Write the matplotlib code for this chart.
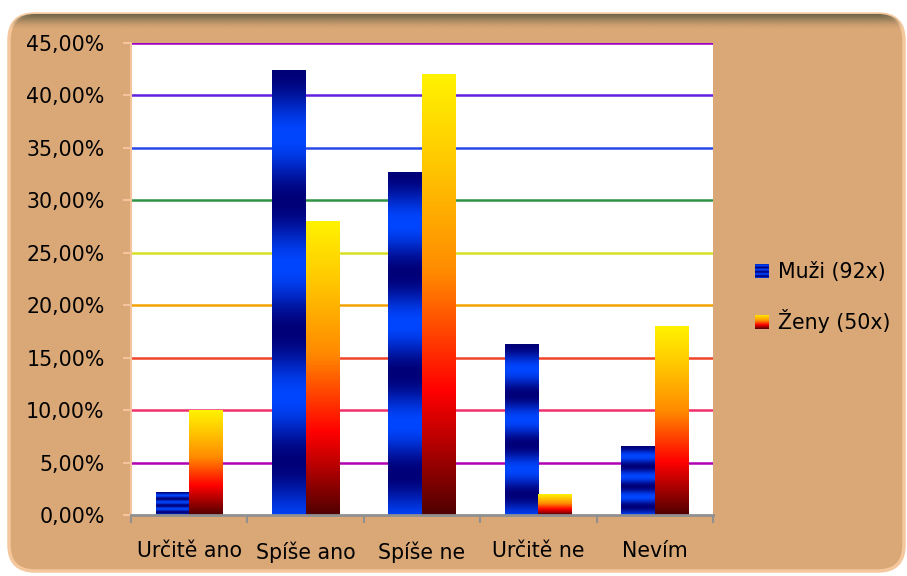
import numpy as np
import matplotlib
matplotlib.use('Agg')
import matplotlib.pyplot as plt
from matplotlib.colors import LinearSegmentedColormap, to_rgb
from matplotlib.patches import FancyBboxPatch, Patch
from matplotlib.ticker import FuncFormatter

categories = ['Určitě ano', 'Spíše ano', 'Spíše ne', 'Určitě ne', 'Nevím']
muzi = [2.17, 42.39, 32.61, 16.30, 6.52]   # % of 92
zeny = [10.0, 28.0, 42.0, 2.0, 18.0]        # % of 50
series_labels = ['Muži (92x)', 'Ženy (50x)']
y_ticks = [0, 5, 10, 15, 20, 25, 30, 35, 40, 45]

# each gridline has its own colour in the original
grid_colors = ['#909090', '#B000B0', '#F03068', '#F04428', '#F2A200',
               '#D8E024', '#2E9444', '#2848E8', '#6020E0', '#A000C0']

tan = '#DAA877'

zeny_cmap = LinearSegmentedColormap.from_list(
    'zeny', [(0, '#FFF200'), (0.2, '#FFC800'), (0.45, '#FF8A00'),
             (0.72, '#FF0000'), (1.0, '#520000')])


def blue_stripes(n=200, cycles=3.4):
    # navy -> bright blue bands, same number of bands on every bar
    t = np.linspace(0, 1, n)
    k = 0.5 - 0.5 * np.cos(2 * np.pi * cycles * t)
    navy = np.array(to_rgb('#000078'))
    bright = np.array(to_rgb('#0046FF'))
    rgb = navy[None, :] * (1 - k[:, None]) + bright[None, :] * k[:, None]
    return rgb[:, None, :]


def red_gradient(n=200):
    t = np.linspace(0, 1, n)
    return zeny_cmap(t)[:, None, :3]


fig = plt.figure(figsize=(9.07, 5.76), dpi=100)
fig.patch.set_facecolor('white')

# background panel with rounded corners and a dark top edge
bg = fig.add_axes([0, 0, 1, 1])
bg.set_xlim(0, 907)
bg.set_ylim(576, 0)
bg.axis('off')
panel = FancyBboxPatch((9, 14), 895, 557, boxstyle='round,pad=0,rounding_size=26',
                       facecolor=tan, edgecolor='#F4C89C', linewidth=2.5, zorder=1)
bg.add_patch(panel)
shade = np.zeros((40, 1, 4))
shade[:, 0, :3] = to_rgb('#5E5A40')
shade[:, 0, 3] = np.linspace(0.95, 0, 40) ** 1.6
im = bg.imshow(shade, extent=[9, 904, 30, 14], aspect='auto', zorder=2)
im.set_clip_path(panel)

ax = fig.add_axes([131 / 907, 1 - 515 / 576, (713 - 131) / 907, (515 - 43) / 576])
ax.set_facecolor('white')

x = np.arange(len(categories))
w = 0.288
bars_m = ax.bar(x - w / 2, muzi, w, facecolor='none', edgecolor='none', zorder=3)
bars_z = ax.bar(x + w / 2, zeny, w, facecolor='none', edgecolor='none', zorder=3)

for bars, fill in [(bars_m, blue_stripes), (bars_z, red_gradient)]:
    for b in bars:
        x0, y0 = b.get_x(), b.get_y()
        ax.imshow(fill(), extent=[x0, x0 + b.get_width(), y0, y0 + b.get_height()],
                  origin='upper', aspect='auto', zorder=3, interpolation='bilinear')

for val, col in zip(y_ticks[1:], grid_colors[1:]):
    ax.axhline(val, color=col, linewidth=1.8, zorder=1)

ax.set_xlim(-0.5, len(categories) - 0.5)
ax.set_ylim(0, 45)
ax.set_yticks(y_ticks)
ax.yaxis.set_major_formatter(FuncFormatter(lambda v, p: ('%.2f' % v).replace('.', ',') + '%'))
ax.set_xticks(x)
ax.set_xticklabels(categories)
ax.set_xticks(np.arange(len(categories) + 1) - 0.5, minor=True)

ax.tick_params(axis='x', which='major', length=0, pad=19, labelsize=14.8)
ax.tick_params(axis='x', which='minor', length=6, width=1.5, color='#909090')
ax.tick_params(axis='y', length=6, width=1.5, color='#F4C49C', pad=13, labelsize=14.8)

for s in ['top', 'right']:
    ax.spines[s].set_visible(False)
ax.spines['left'].set_color('#F4C49C')
ax.spines['left'].set_linewidth(1.5)
ax.spines['bottom'].set_color('#909090')
ax.spines['bottom'].set_linewidth(2)
ax.spines['bottom'].set_zorder(4)

handles = [Patch(facecolor='#0030D0'), Patch(facecolor='#FF8000')]
leg = fig.legend(handles, series_labels, loc='center left',
                 bbox_to_anchor=(755 / 907, 1 - 297.5 / 576), frameon=False,
                 fontsize=14.8, handlelength=0.68, handleheight=0.68,
                 handletextpad=0.45, labelspacing=1.3, borderpad=0, borderaxespad=0)

# put the gradient fills on the legend keys too
fig.canvas.draw()
r = fig.canvas.get_renderer()
for h, fill in zip(leg.legend_handles, [lambda: blue_stripes(60), lambda: red_gradient(60)]):
    bb = h.get_window_extent(r).transformed(fig.transFigure.inverted())
    kax = fig.add_axes([bb.x0, bb.y0, bb.width, bb.height])
    kax.set_zorder(10)
    kax.imshow(fill(), aspect='auto', interpolation='bilinear')
    kax.axis('off')

fig.savefig('out.png', dpi=100)
